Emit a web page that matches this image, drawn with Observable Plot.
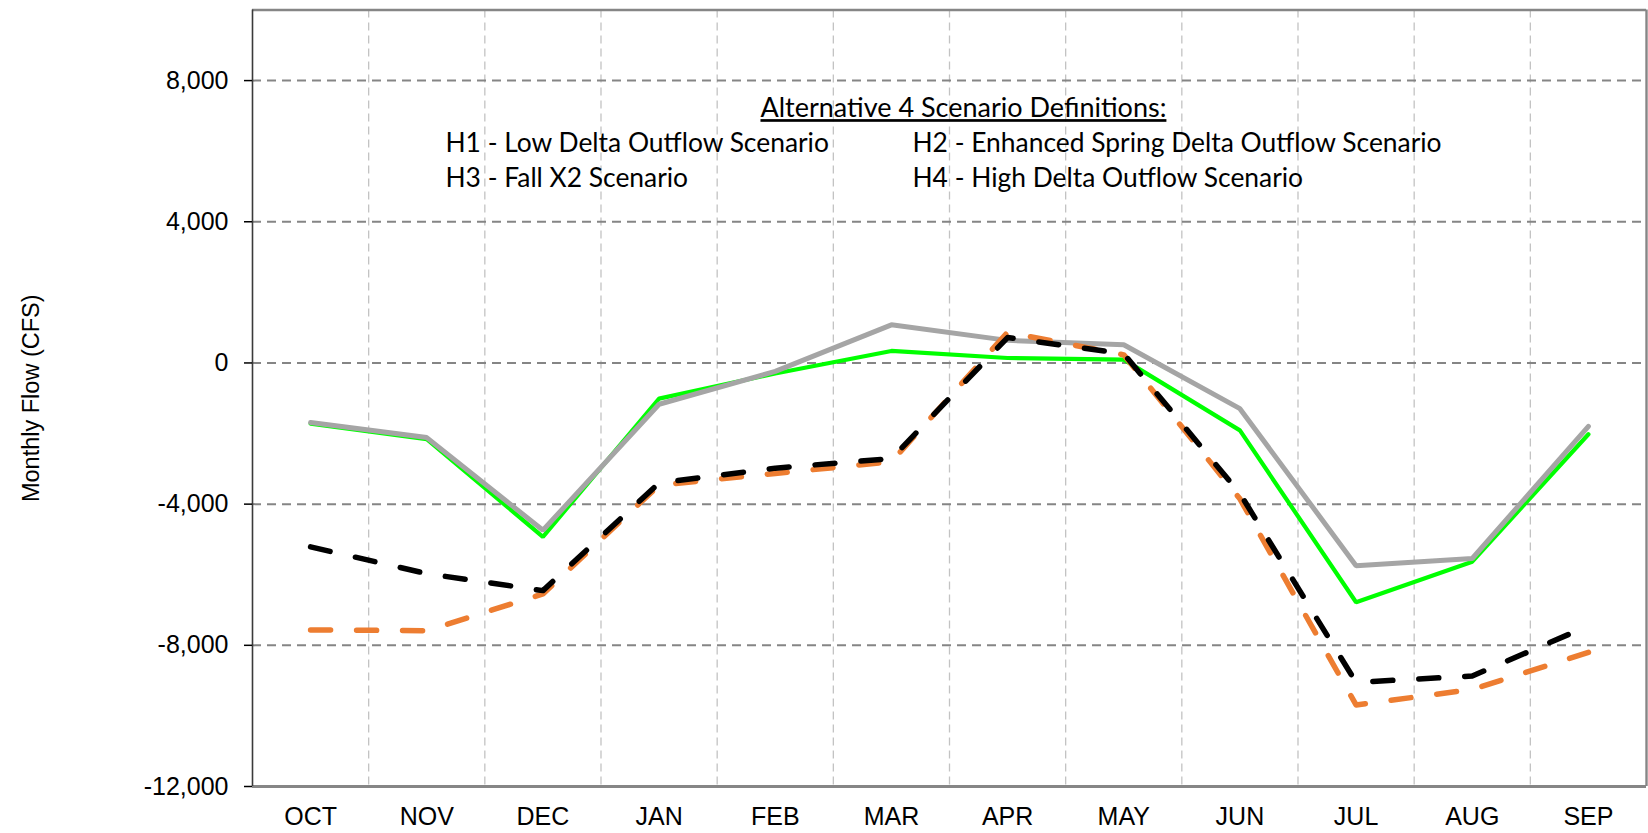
<!DOCTYPE html>
<html>
<head>
<meta charset="utf-8">
<script src="https://cdn.jsdelivr.net/npm/d3@7"></script>
<script src="https://cdn.jsdelivr.net/npm/@observablehq/plot@0.6"></script>
<style>
  html, body { margin: 0; padding: 0; background: #fff; }
  #chart svg { display: block; }
</style>
</head>
<body>
<div id="chart"></div>
<script>
// ---- data ----
const months = ["OCT","NOV","DEC","JAN","FEB","MAR","APR","MAY","JUN","JUL","AUG","SEP"];
const greenSolid   = [-1720, -2160, -4925, -1010, -300, 340, 140, 95, -1910, -6780, -5630, -2020];
const graySolid    = [-1690, -2115, -4740, -1170, -240, 1080, 640, 515, -1295, -5745, -5540, -1795];
const orangeDashed = [-7565, -7585, -6545, -3460, -3130, -2800, 870, 230, -3850, -9690, -9250, -8200];
const blackDashed  = [-5210, -5970, -6450, -3400, -2980, -2710, 720, 260, -3700, -9050, -8870, -7450];
const yTicks = [-12000, -8000, -4000, 0, 4000, 8000];
const yGrid = [-8000, -4000, 0, 4000, 8000];
const yLabel = "Monthly Flow (CFS)";
const noteTitle = "Alternative 4 Scenario Definitions:";
const noteLines = [
  {text: "H1 - Low Delta Outflow Scenario", col: 0, row: 0},
  {text: "H2 - Enhanced Spring Delta Outflow Scenario", col: 1, row: 0},
  {text: "H3 - Fall X2 Scenario", col: 0, row: 1},
  {text: "H4 - High Delta Outflow Scenario", col: 1, row: 1}
];

const toRows = (vals) => vals.map((v, i) => ({x: i + 0.5, y: v}));
const monthCenters = months.map((d, i) => i + 0.5);
const boundaries = d3.range(1, months.length);

// annotation anchor positions in data units
const noteColX = [1.661, 5.681];
const noteRowY = [6218, 5213];
const noteTitlePos = {x: 6.12, y: 7210};

const numFmt = d => d.toLocaleString("en-US");
const axisFont = "Liberation Sans, Arial, sans-serif";
const noteFont = "Lato, Carlito, Calibri, sans-serif";

const chart = Plot.plot({
  width: 1648,
  height: 833,
  marginLeft: 252,
  marginRight: 2,
  marginTop: 9.5,
  marginBottom: 47,
  style: {fontFamily: axisFont, fontSize: "25px", background: "#fff", color: "#000"},
  x: {domain: [0, months.length], axis: null},
  y: {domain: [-12000, 10000], axis: null},
  marks: [
    // vertical gridlines (between months)
    Plot.ruleX(boundaries, {stroke: "#c3c3c3", strokeWidth: 1.3, strokeDasharray: "8,5"}),
    // horizontal gridlines
    Plot.ruleY(yGrid, {stroke: "#858585", strokeWidth: 2, strokeDasharray: "9,6"}),
    // frame
    Plot.ruleY([10000], {stroke: "#868686", strokeWidth: 2.6}),
    Plot.ruleX([months.length], {stroke: "#868686", strokeWidth: 2.4}),
    Plot.ruleY([-12000], {stroke: "#868686", strokeWidth: 3}),
    Plot.ruleX([0], {stroke: "#3a3a3a", strokeWidth: 1.6}),
    // axes
    Plot.axisY({ticks: yTicks, tickSize: 8, tickPadding: 16, tickFormat: numFmt,
      fontSize: 25, fontFamily: axisFont, stroke: "#000", strokeWidth: 1.5, fill: "#000", label: null}),
    Plot.axisX({ticks: monthCenters, tickSize: 0, tickPadding: 21,
      tickFormat: d => months[Math.floor(d)], fontSize: 25, fontFamily: axisFont, fill: "#000", label: null}),
    Plot.text([yLabel], {frameAnchor: "left", textAnchor: "middle", dx: -221, rotate: -90,
      fontSize: 23.5, fontFamily: axisFont, fill: "#000"}),
    // series
    Plot.line(toRows(greenSolid), {x: "x", y: "y", stroke: "#00ff00", strokeWidth: 4.2, strokeLinejoin: "miter"}),
    Plot.line(toRows(graySolid), {x: "x", y: "y", stroke: "#a5a5a5", strokeWidth: 5, strokeLinejoin: "miter"}),
    Plot.line(toRows(orangeDashed), {x: "x", y: "y", stroke: "#ed7d31", strokeWidth: 5.5,
      strokeDasharray: "20,26", strokeLinecap: "round"}),
    Plot.line(toRows(blackDashed), {x: "x", y: "y", stroke: "#000", strokeWidth: 5.5,
      strokeDasharray: "20,26", strokeLinecap: "round"}),
    // annotation
    Plot.text([noteTitle], {x: () => noteTitlePos.x, y: () => noteTitlePos.y, textAnchor: "middle",
      fontSize: 27, fontFamily: noteFont, fill: "#000"}),
    Plot.text(noteLines, {x: d => noteColX[d.col], y: d => noteRowY[d.row], text: "text",
      textAnchor: "start", fontSize: 26.4, fontFamily: noteFont, fill: "#000"})
  ]
});

d3.select(chart).selectAll("text")
  .filter(function() { return this.textContent === noteTitle; })
  .style("text-decoration", "underline");

document.getElementById("chart").appendChild(chart);
</script>
</body>
</html>
